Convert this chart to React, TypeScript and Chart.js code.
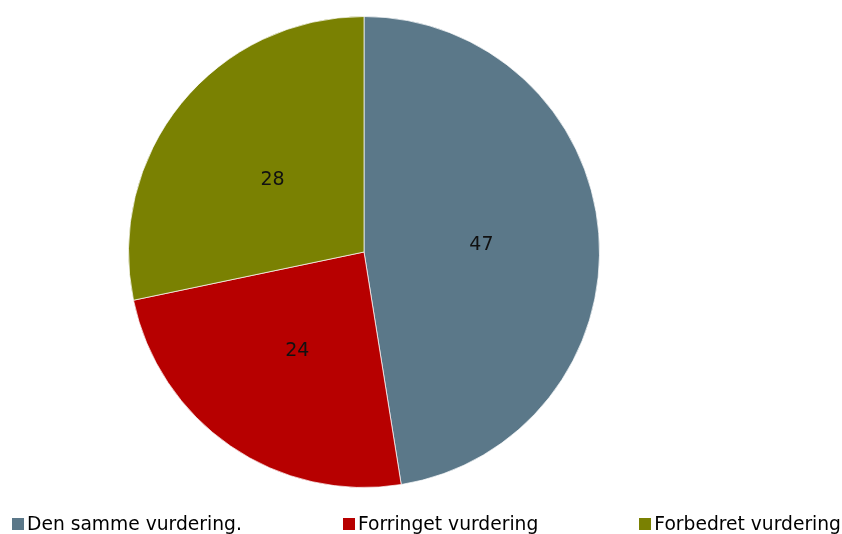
import React, { useEffect, useRef } from "react";
import { Chart, registerables } from "chart.js";

Chart.register(...registerables);

const categories = ["Den samme vurdering.", "Forringet vurdering", "Forbedret vurdering"];
const values = [47, 24, 28];
const colors = ["#5B7889", "#B70000", "#7A8102"];

const FONT = "'DejaVu Sans', Verdana, sans-serif";

const labelPlugin = {
  id: "sliceLabels",
  afterDatasetsDraw(chart: any) {
    const ctx = chart.ctx;
    const meta = chart.getDatasetMeta(0);
    ctx.save();
    ctx.font = `19px ${FONT}`;
    ctx.fillStyle = "#111111";
    ctx.textAlign = "center";
    ctx.textBaseline = "middle";
    meta.data.forEach((arc: any, i: number) => {
      const { x, y, startAngle, endAngle, outerRadius } = arc.getProps(
        ["x", "y", "startAngle", "endAngle", "outerRadius"],
        true
      );
      const mid = (startAngle + endAngle) / 2;
      const r = outerRadius * 0.5;
      ctx.fillText(String(values[i]), x + Math.cos(mid) * r, y + Math.sin(mid) * r + 2);
    });
    ctx.restore();
  },
};

export default function App() {
  const ref = useRef<HTMLCanvasElement | null>(null);
  useEffect(() => {
    if (!ref.current) return;
    const chart = new Chart(ref.current, {
      type: "pie",
      data: {
        labels: categories,
        datasets: [
          {
            data: values,
            backgroundColor: colors,
            borderColor: "rgba(255,255,255,0.7)",
            borderWidth: 1,
          },
        ],
      },
      options: {
        animation: false,
        responsive: false,
        maintainAspectRatio: false,
        layout: { padding: { top: 16, bottom: 46, left: 0, right: 114 } },
        plugins: {
          legend: { display: false },
          tooltip: { enabled: false },
        },
      },
      plugins: [labelPlugin],
    });
    return () => chart.destroy();
  }, []);

  return (
    <div style={{ position: "fixed", left: 0, top: 0, width: 842, height: 534, background: "#fff", overflow: "hidden" }}>
      <canvas ref={ref} width={842} height={534} style={{ position: "absolute", left: 0, top: 0 }} />
      <div
        style={{
          position: "absolute",
          left: 12,
          right: 1,
          top: 512,
          height: 24,
          display: "flex",
          justifyContent: "space-between",
          alignItems: "center",
          fontFamily: FONT,
          fontSize: 18.7,
          lineHeight: "24px",
          color: "#000",
          whiteSpace: "nowrap",
        }}
      >
        {categories.map((c, i) => (
          <div key={c} style={{ display: "flex", alignItems: "center" }}>
            <span style={{ display: "inline-block", width: 12, height: 12, background: colors[i], marginRight: 3 }} />
            <span>{c}</span>
          </div>
        ))}
      </div>
    </div>
  );
}
